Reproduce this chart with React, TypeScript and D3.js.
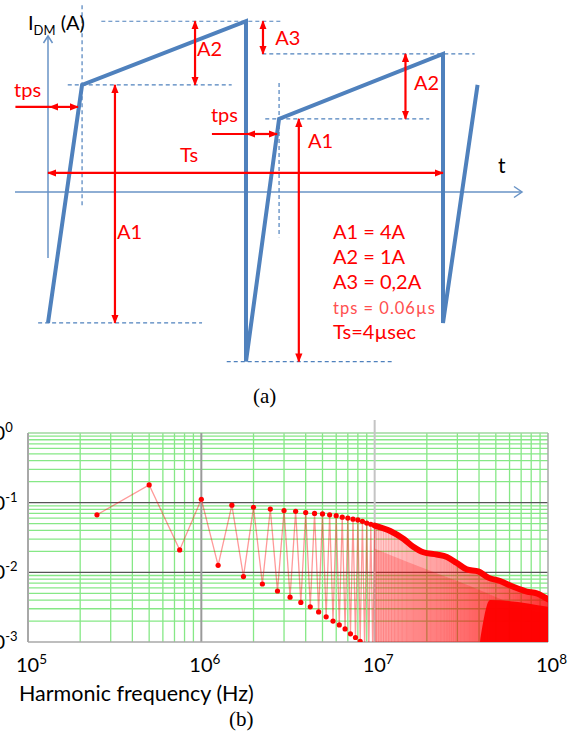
import React from 'react';
import * as d3 from 'd3';

// ---------- (a) schematic of the DM current (time in µs, current in drawing units of A)
const waveT = [0, 0.345, 2.005, 2.005, 2.34, 4, 4, 4.35];
const waveI = [-2.2, 1.8, 2.87, -2.85, 1.23, 2.32, -2.2, 1.8];

// dashed guide lines
const hGuideT0 = [0.2, 0.54, 2.17, 2.2, -0.1, 1.81];
const hGuideT1 = [1.86, 2.38, 4.32, 3.86, 1.56, 3.48];
const hGuideI = [1.8, 2.87, 2.32, 1.23, -2.2, -2.85];
const vGuideT = [0.345, 2.34];
const vGuideI0 = [3.14, 1.83];
const vGuideI1 = [-0.27, -0.76];

// dimension arrows (double headed)
const arrowNames = ['tps', 'tps', 'Ts', 'A1', 'A2', 'A3', 'A2', 'A1'];
const arrowT0 = [0.02, 2.015, 0, 0.678, 1.489, 2.177, 3.62, 2.54];
const arrowT1 = [0.304, 2.32, 4, 0.678, 1.489, 2.177, 3.62, 2.54];
const arrowI0 = [1.43, 0.975, 0.32, 1.8, 2.87, 2.87, 2.32, 1.23];
const arrowI1 = [1.43, 0.975, 0.32, -2.2, 1.8, 2.32, 1.23, -2.85];
// where each label sits (same units)
const labelT = [-0.344, 1.65, 1.337, 0.699, 1.509, 2.3, 3.706, 2.633];
const labelI = [1.597, 1.176, 0.504, -0.79, 2.286, 2.47, 1.714, 0.74];
// tails of the tps arrows
const tailT0 = [-0.33, 1.66];
const tailT1 = [0.02, 2.015];
const tailI = [1.43, 0.975];

const paramLines = ['A1 = 4A', 'A2 = 1A', 'A3 = 0,2A', 'tps = 0.06µs', 'Ts=4µsec'];

// ---------- (b) harmonic spectrum
const f0 = 250e3; // 1 / Ts
// n = 1, 3, 5 ... 39
const oddAmp = [0.067, 0.021, 0.0126, 0.0087, 0.0068, 0.0054, 0.0044, 0.0037, 0.0032, 0.0027,
  0.0023, 0.002, 0.00176, 0.00154, 0.00131, 0.00116, 0.00102, 0.00088, 0.00077, 0.00067];
// n = 2, 4, 6 ... 40
const evenAmp = [0.18, 0.112, 0.092, 0.086, 0.081, 0.077, 0.075, 0.072, 0.07, 0.069,
  0.067, 0.065, 0.062, 0.06, 0.058, 0.0565, 0.054, 0.051, 0.049, 0.047];
// envelope of the merged peaks above 10 MHz
const envF = [1e7, 1.23e7, 1.47e7, 1.67e7, 1.91e7, 2.28e7, 2.61e7, 2.98e7, 3.4e7, 3.96e7, 4.53e7, 5.29e7, 6.31e7, 7.55e7, 8.62e7, 1e8];
const envV = [0.047, 0.0392, 0.0301, 0.0233, 0.0194, 0.018, 0.0166, 0.0136, 0.011, 0.0103, 0.0084, 0.0075, 0.0062, 0.0053, 0.005, 0.0041];
// denser band and saturated band of the valleys
const midF = [1e7, 1.23e7, 3e7, 9.3e7, 1e8];
const midV = [0.022, 0.0178, 0.0075, 0.0026, 0.0025];
const solidF = [4.05e7, 4.63e7, 1e8];
const solidV = [0.001, 0.004, 0.0032];

const xTickVals = [1e5, 1e6, 1e7, 1e8];
const yTickVals = [1, 1e-1, 1e-2, 1e-3];

const SANS = "Lato, 'Open Sans', sans-serif";
const SERIF = "'Liberation Serif', 'Times New Roman', serif";
const BLUE = '#4f81bd';
const RED = '#ff0000';

const tX = d3.scaleLinear().domain([0, 4]).range([48, 443]);
const iY = d3.scaleLinear().domain([0, 1]).range([192, 132.5]);

const fX = d3.scaleLog().domain([1e5, 1e8]).range([28, 548]);
const vY = d3.scaleLog().domain([1e-3, 1]).range([642, 433]);

export default function App() {
  const wavePath = d3.line<number>()
    .x((_, k) => tX(waveT[k]))
    .y((_, k) => iY(waveI[k]))(waveT) || '';

  const harmonics = d3.range(1, 41).map(n => ({
    f: n * f0,
    v: n % 2 ? oddAmp[(n - 1) / 2] : evenAmp[n / 2 - 1],
  }));
  const zigzag = d3.line<{ f: number; v: number }>().x(d => fX(d.f)).y(d => vY(d.v))(harmonics) || '';

  const bandArea = (F: number[], V: number[]) =>
    d3.area<number>()
      .x((_, k) => fX(F[k]))
      .y0(vY(1e-3) + 2)
      .y1((_, k) => vY(V[k]))
      .curve(d3.curveMonotoneX)(F) || '';
  const envArea = bandArea(envF, envV);
  const envLine = d3.line<number>()
    .x((_, k) => fX(envF[k]))
    .y((_, k) => vY(envV[k]))
    .curve(d3.curveMonotoneX)(envF) || '';

  const gridX = fX.ticks();
  const gridY = vY.ticks();
  const isMajor = (v: number) => Math.abs(Math.log10(v) - Math.round(Math.log10(v))) < 1e-6;
  const [px0, px1] = fX.range();
  const [py0, py1] = vY.range();

  const stems = d3.range(40, 401).map(n => n * f0);

  return (
    <svg width={579} height={735} style={{ position: 'absolute', left: 0, top: 0, background: '#fff' }} fontFamily={SANS}>
      <defs>
        <marker id="ah" viewBox="0 0 10 8" refX="9" refY="4" markerWidth="9" markerHeight="7.5"
          markerUnits="userSpaceOnUse" orient="auto-start-reverse">
          <path d="M0,0L10,4L0,8Z" fill={RED} />
        </marker>
        <clipPath id="plotClip">
          <rect x={px0} y={py1} width={px1 - px0} height={py0 - py1} />
        </clipPath>
        <clipPath id="envClip">
          <path d={envArea} />
        </clipPath>
      </defs>

      {/* ---------------- (a) ---------------- */}
      <g stroke={BLUE} strokeWidth={1.2} strokeDasharray="4 3" fill="none">
        {hGuideI.map((i, k) => (
          <line key={'h' + k} x1={tX(hGuideT0[k])} x2={tX(hGuideT1[k])} y1={iY(i)} y2={iY(i)} />
        ))}
        {vGuideT.map((t, k) => (
          <line key={'v' + k} x1={tX(t)} x2={tX(t)} y1={iY(vGuideI0[k])} y2={iY(vGuideI1[k])} />
        ))}
      </g>
      <g stroke={BLUE} strokeWidth={1.5} fill="none" opacity={0.85}>
        <line x1={15} x2={522} y1={iY(0)} y2={iY(0)} />
        <polyline points={`514,${iY(0) - 5.5} 522,${iY(0)} 514,${iY(0) + 5.5}`} />
        <line x1={tX(0)} x2={tX(0)} y1={36} y2={258} />
        <polyline points={`${tX(0) - 4.5},43 ${tX(0)},36 ${tX(0) + 4.5},43`} />
      </g>
      <text x={28} y={29.5} fontSize={20} fill="#000">
        I<tspan fontSize={13} dy={5}>DM</tspan><tspan dy={-5}> (A)</tspan>
      </text>
      <text x={498} y={173} fontSize={21} fill="#000">t</text>

      <path d={wavePath} fill="none" stroke={BLUE} strokeWidth={4} strokeLinejoin="miter" />

      <g stroke={RED} strokeWidth={2.2} fill="none">
        {tailI.map((i, k) => (
          <line key={'tail' + k} x1={tX(tailT0[k])} x2={tX(tailT1[k])} y1={iY(i)} y2={iY(i)} />
        ))}
        {arrowNames.map((_, k) => (
          <line key={'ar' + k} x1={tX(arrowT0[k])} x2={tX(arrowT1[k])} y1={iY(arrowI0[k])} y2={iY(arrowI1[k])}
            markerStart="url(#ah)" markerEnd="url(#ah)" />
        ))}
      </g>
      <g fill={RED} fontSize={20}>
        {arrowNames.map((name, k) => (
          <text key={'lb' + k} x={tX(labelT[k])} y={iY(labelI[k])}>{name}</text>
        ))}
        {paramLines.map((s, k) => (
          <text key={'p' + k} x={333} y={239 + k * 25}
            fontSize={s.startsWith('tps') ? 16.5 : 20}
            fill={s.startsWith('tps') ? '#ff4f4f' : RED}
            letterSpacing={s.startsWith('tps') ? 1 : 0}>{s}</text>
        ))}
      </g>
      <text x={253} y={403} fontFamily={SERIF} fontSize={21} fill="#000">(a)</text>

      {/* ---------------- (b) ---------------- */}
      <g>
        {gridY.filter(v => !isMajor(v)).map(v => (
          <line key={'gy' + v} x1={px0} x2={px1} y1={vY(v)} y2={vY(v)} stroke="#86e886" strokeWidth={1.3} />
        ))}
        {gridX.filter(v => !isMajor(v)).map(v => (
          <line key={'gx' + v} x1={fX(v)} x2={fX(v)} y1={py1} y2={py0} stroke="#86e886" strokeWidth={1.3} />
        ))}
        <line x1={px0} x2={px1} y1={py1} y2={py1} stroke="#9fd89f" strokeWidth={1.5} />
        {gridY.filter(v => isMajor(v) && v < 1 && v > 1e-3).map(v => (
          <line key={'my' + v} x1={px0} x2={px1} y1={vY(v)} y2={vY(v)} stroke="#555" strokeWidth={1.3} />
        ))}
        <line x1={fX(1e6)} x2={fX(1e6)} y1={py1} y2={py0} stroke="#9a9a9a" strokeWidth={2} />
        <line x1={fX(1e7)} x2={fX(1e7)} y1={420} y2={py0} stroke="#c4c4c4" strokeWidth={2} />
        <line x1={px0} x2={px0} y1={py1} y2={py0} stroke="#a8a8a8" strokeWidth={2} />
        <line x1={px1} x2={px1} y1={py1} y2={py0} stroke="#a8a8a8" strokeWidth={1.5} />
        <line x1={px0} x2={px1} y1={py0} y2={py0} stroke="#a8a8a8" strokeWidth={1.5} />
      </g>

      <g clipPath="url(#plotClip)">
        <path d={envArea} fill={RED} opacity={0.13} />
        <g clipPath="url(#envClip)" stroke={RED} strokeWidth={0.9}>
          {stems.map(f => (
            <line key={'s' + f} x1={fX(f)} x2={fX(f)} y1={py1} y2={py0} strokeOpacity={0.28} />
          ))}
        </g>
        <path d={bandArea(midF, midV)} fill={RED} opacity={0.22} clipPath="url(#envClip)" />
        <path d={bandArea(solidF, solidV)} fill={RED} opacity={0.95} />
        <path d={zigzag} fill="none" stroke={RED} strokeOpacity={0.4} strokeWidth={1.3} />
        {harmonics.map(h => (
          <circle key={'c' + h.f} cx={fX(h.f)} cy={vY(h.v)} r={2.6} fill={RED} />
        ))}
        <path d={envLine} fill="none" stroke={RED} strokeWidth={6} strokeLinecap="round" strokeLinejoin="round" />
      </g>

      <g fill="#000">
        {yTickVals.map(v => (
          <text key={'yl' + v} x={-18} y={vY(v) + 7} fontSize={20}>
            10<tspan fontSize={13} dy={-8}>{String(Math.round(Math.log10(v)))}</tspan>
          </text>
        ))}
        {xTickVals.map(v => (
          <text key={'xl' + v} x={fX(v) - 12} y={672} fontSize={20}>
            10<tspan fontSize={13.5} dy={-8}>{String(Math.round(Math.log10(v)))}</tspan>
          </text>
        ))}
        <text x={19} y={701} fontSize={21.5}>Harmonic frequency (Hz)</text>
        <text x={229} y={726} fontFamily={SERIF} fontSize={21}>(b)</text>
      </g>
    </svg>
  );
}
